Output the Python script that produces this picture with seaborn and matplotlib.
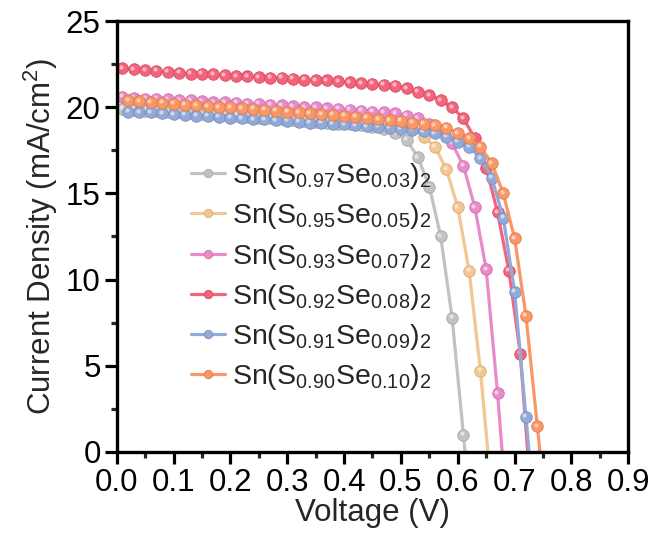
import matplotlib
matplotlib.use("Agg")
import matplotlib.pyplot as plt
import seaborn as sns
import numpy as np
from matplotlib.ticker import AutoMinorLocator, FixedLocator
from matplotlib.transforms import offset_copy

# ---------------- data ----------------
V_odd = [0.01, 0.03, 0.05, 0.07, 0.09, 0.11, 0.13, 0.15, 0.17, 0.19,
         0.21, 0.23, 0.25, 0.27, 0.29, 0.31, 0.33, 0.35, 0.37, 0.39,
         0.41, 0.43, 0.45, 0.47, 0.49, 0.51, 0.53, 0.55, 0.57, 0.59,
         0.61, 0.63, 0.65, 0.67, 0.69, 0.71, 0.73, 0.75]
V_even = [0.02, 0.04, 0.06, 0.08, 0.10, 0.12, 0.14, 0.16, 0.18, 0.20,
          0.22, 0.24, 0.26, 0.28, 0.30, 0.32, 0.34, 0.36, 0.38, 0.40,
          0.42, 0.44, 0.46, 0.48, 0.50, 0.52, 0.54, 0.56, 0.58, 0.60,
          0.62, 0.64, 0.66, 0.68, 0.70, 0.72, 0.74, 0.76]

J_s097 = [19.9, 19.85, 19.8, 19.8, 19.75, 19.7, 19.65, 19.6, 19.6, 19.55,
          19.5, 19.45, 19.4, 19.35, 19.3, 19.25, 19.2, 19.15, 19.1, 19.05,
          19.0, 18.95, 18.85, 18.75, 18.5, 18.1, 17.1, 15.4, 12.5, 7.8,
          1.0, -6.0]
J_s095 = [20.4, 20.35, 20.3, 20.3, 20.25, 20.2, 20.15, 20.1, 20.1, 20.05,
          20.0, 19.95, 19.9, 19.85, 19.8, 19.75, 19.7, 19.65, 19.6, 19.55,
          19.5, 19.45, 19.35, 19.25, 19.05, 18.75, 18.3, 17.7, 16.4, 14.2,
          10.5, 4.7, -2.5]
J_s093 = [20.6, 20.55, 20.5, 20.5, 20.45, 20.4, 20.4, 20.35, 20.3, 20.3,
          20.25, 20.2, 20.2, 20.15, 20.1, 20.05, 20.0, 20.0, 19.95, 19.9,
          19.85, 19.8, 19.75, 19.7, 19.65, 19.5, 19.35, 19.05, 18.65, 17.9,
          16.6, 14.2, 10.6, 3.4, -5.0]
J_s092 = [22.25, 22.2, 22.15, 22.1, 22.05, 22.0, 21.95, 21.95, 21.9, 21.85,
          21.8, 21.8, 21.75, 21.7, 21.7, 21.65, 21.6, 21.55, 21.55, 21.5,
          21.45, 21.4, 21.35, 21.3, 21.25, 21.1, 20.9, 20.7, 20.4, 20.0,
          19.35, 18.2, 16.5, 13.9, 10.5, 5.7, -3.0]
J_s091 = [19.75, 19.7, 19.7, 19.65, 19.6, 19.55, 19.5, 19.5, 19.45, 19.4,
          19.35, 19.3, 19.3, 19.25, 19.2, 19.15, 19.1, 19.1, 19.05, 19.0,
          18.95, 18.9, 18.85, 18.8, 18.75, 18.7, 18.6, 18.5, 18.3, 18.0,
          17.7, 17.05, 15.9, 13.6, 9.3, 2.05, -5.5]
J_s090 = [20.4, 20.35, 20.3, 20.25, 20.2, 20.15, 20.1, 20.05, 20.0, 20.0,
          19.95, 19.9, 19.85, 19.8, 19.75, 19.7, 19.65, 19.6, 19.55, 19.5,
          19.45, 19.4, 19.3, 19.25, 19.2, 19.1, 19.05, 18.95, 18.8, 18.5,
          18.2, 17.7, 16.75, 15.0, 12.4, 7.9, 1.5, -5.0]

labels = [r"Sn(S$_{0.97}$Se$_{0.03}$)$_2$",
          r"Sn(S$_{0.95}$Se$_{0.05}$)$_2$",
          r"Sn(S$_{0.93}$Se$_{0.07}$)$_2$",
          r"Sn(S$_{0.92}$Se$_{0.08}$)$_2$",
          r"Sn(S$_{0.91}$Se$_{0.09}$)$_2$",
          r"Sn(S$_{0.90}$Se$_{0.10}$)$_2$"]
colors = ["#C2C2C2", "#F2C792", "#E98BCB", "#F2647C", "#93AAD8", "#F99767"]
edge_colors = ["#A8A8A8", "#D9AC76", "#CF70B1", "#D84A62", "#7890C0", "#E07C4C"]

x_ticks = [0.0, 0.1, 0.2, 0.3, 0.4, 0.5, 0.6, 0.7, 0.8, 0.9]
y_ticks = [0, 5, 10, 15, 20, 25]

# ---------------- style ----------------
sns.set_style("ticks")
plt.rcParams["font.family"] = ["Liberation Sans", "DejaVu Sans"]
plt.rcParams["mathtext.fontset"] = "custom"
plt.rcParams["mathtext.rm"] = "Liberation Sans"
plt.rcParams["mathtext.it"] = "Liberation Sans:italic"
plt.rcParams["mathtext.bf"] = "Liberation Sans:bold"
plt.rcParams["mathtext.default"] = "regular"

FS = 22.5
LFS = 20.5

fig = plt.figure(figsize=(6.54, 5.47), dpi=100)
ax = fig.add_axes([0.1784, 0.1737, 0.7823, 0.7879])

series = [(V_odd, J_s097), (V_even, J_s095), (V_odd, J_s093),
          (V_odd, J_s092), (V_even, J_s091), (V_even, J_s090)]

hl = offset_copy(ax.transData, fig=fig, x=-1.1, y=1.1, units="points")
for (V, J), lab, c, ec in zip(series, labels, colors, edge_colors):
    x = V[:len(J)]
    sns.lineplot(x=x, y=J, ax=ax, color=c, lw=2.3, marker="o", markersize=8.3,
                 markeredgecolor=ec, markeredgewidth=0.6, label=lab,
                 sort=False, estimator=None)
    ax.plot(x, J, ls="none", marker="o", markersize=3.0, color="white",
            alpha=0.55, markeredgewidth=0, transform=hl, label="_nolegend_")

ax.set_xlim(0, 0.9)
ax.set_ylim(0, 25)
ax.xaxis.set_major_locator(FixedLocator(x_ticks))
ax.yaxis.set_major_locator(FixedLocator(y_ticks))
ax.set_xticklabels([f"{t:.1f}" for t in x_ticks])
ax.set_yticklabels([str(t) for t in y_ticks])
ax.xaxis.set_minor_locator(AutoMinorLocator(2))
ax.yaxis.set_minor_locator(AutoMinorLocator(2))
ax.tick_params(which="major", direction="out", length=8.5, width=2.3,
               labelsize=FS, color="black", labelcolor="black",
               top=False, right=False, pad=3)
ax.tick_params(which="minor", direction="out", length=4.5, width=2.3,
               top=False, right=False)
for s in ax.spines.values():
    s.set_visible(True)
    s.set_linewidth(2.4)
    s.set_color("black")

ax.set_xlabel("Voltage (V)", fontsize=FS, labelpad=0)
ax.set_ylabel(r"Current Density (mA/cm$^2$)", fontsize=FS, labelpad=4)

leg = ax.legend(loc="upper left", bbox_to_anchor=(0.145, 0.675), frameon=False,
                fontsize=LFS, handlelength=1.2, handletextpad=0.25,
                labelspacing=0.36, borderpad=0, borderaxespad=0)
for h in leg.legend_handles:
    h.set_markersize(6)
    h.set_linewidth(2.3)

fig.savefig("out.png", dpi=100)
